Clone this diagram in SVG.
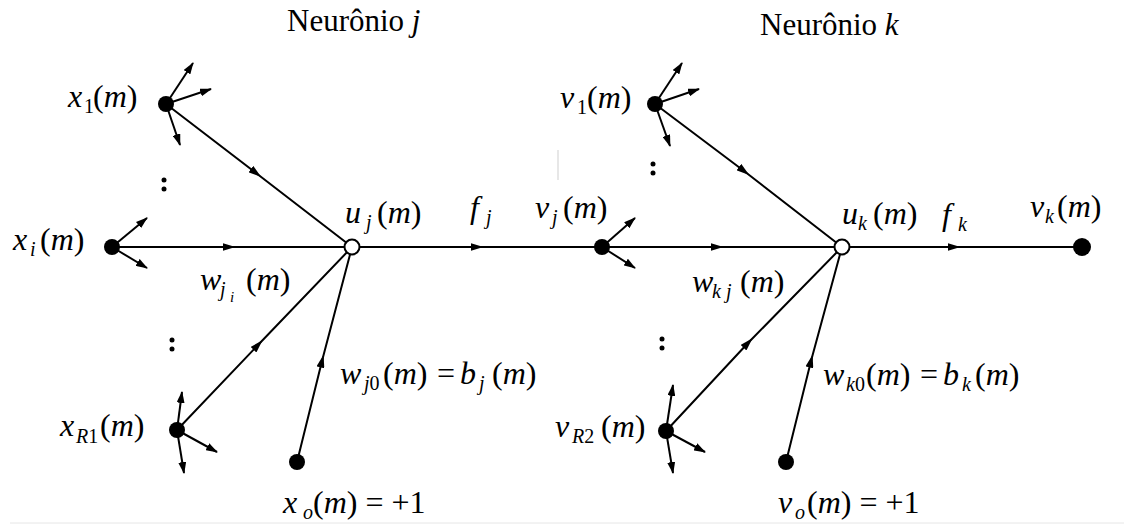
<svg xmlns="http://www.w3.org/2000/svg" width="1124" height="526" viewBox="0 0 1124 526" font-family="'Liberation Serif','Times New Roman',serif">
<style>
text{font-family:"Liberation Serif","Times New Roman",serif;font-size:32px;fill:#000}
.t{font-size:31px}
.i{font-style:italic}
.s{font-size:20px}
.ss{font-size:15px}
.out{stroke:#000;stroke-width:2;fill:none;marker-end:url(#tip)}
.mid{stroke:#000;stroke-width:2;fill:none;marker-mid:url(#mh)}
.dot{fill:#000}
.open{fill:#fff;stroke:#000;stroke-width:2}
</style>
<defs>
<marker id="tip" markerUnits="userSpaceOnUse" viewBox="0 0 12 8" markerWidth="12" markerHeight="8" refX="11" refY="4" orient="auto"><path d="M0,0 L12,4 L0,8 z" fill="#000"/></marker>
<marker id="mh" markerUnits="userSpaceOnUse" viewBox="0 0 13 8" markerWidth="13" markerHeight="8" refX="6.5" refY="4" orient="auto"><path d="M0,0 L13,4 L0,8 z" fill="#000"/></marker>
</defs>
<rect width="1124" height="526" fill="#fff"/>
<line x1="558" y1="150" x2="558" y2="180" stroke="#cfcfcf" stroke-width="1"/>
<line x1="10" y1="523" x2="1124" y2="523" stroke="#e6e6e6" stroke-width="1"/>

<g id="connectors">
<path class="out" d="M166,104 L193,63"/>
<path class="out" d="M166,104 L211,89"/>
<path class="out" d="M166,104 L180,145"/>
<path class="mid" d="M166,104 L256,173 L352,247"/>
<path class="out" d="M112,247 L147,218"/>
<path class="out" d="M112,247 L147,268"/>
<path class="mid" d="M112,247 L229,247 L352,247"/>
<path class="out" d="M177,430 L182,392"/>
<path class="out" d="M177,430 L217,452"/>
<path class="out" d="M177,430 L184,473"/>
<path class="mid" d="M177,430 L258,345 L352,247"/>
<path class="mid" d="M297,462 L322,361 L352,247"/>
<path class="mid" d="M352,247 L477,247 L602,247"/>
<path class="out" d="M602,247 L635,218"/>
<path class="out" d="M602,247 L635,268"/>
<path class="mid" d="M602,247 L717,247 L842,247"/>
<path class="out" d="M655,104 L682,63"/>
<path class="out" d="M655,104 L699,89"/>
<path class="out" d="M655,104 L670,146"/>
<path class="mid" d="M655,104 L744,171 L842,247"/>
<path class="out" d="M666,431 L673,385"/>
<path class="out" d="M666,431 L705,452"/>
<path class="out" d="M666,431 L673,473"/>
<path class="mid" d="M666,431 L748,343 L842,247"/>
<path class="mid" d="M786,462 L811,361 L842,247"/>
<path class="mid" d="M842,247 L954,247 L1082,247"/>
</g>

<g id="title-j"><text class="t" x="287" y="31">Neurônio <tspan class="i">j</tspan></text></g>
<g id="title-k"><text class="t" x="760" y="35">Neurônio <tspan class="i">k</tspan></text></g>

<g id="node-x1"><circle class="dot" cx="166" cy="104" r="8"/>
<text x="68" y="107"><tspan class="i">x</tspan><tspan class="s" x="84" y="113">1</tspan><tspan x="93" y="107">(<tspan class="i">m</tspan>)</tspan></text></g>
<g id="dots-j1"><circle class="dot" cx="164" cy="180" r="2.5"/><circle class="dot" cx="164" cy="189" r="2.5"/></g>
<g id="node-xi"><circle class="dot" cx="112" cy="247" r="8"/>
<text x="13" y="250"><tspan class="i">x</tspan><tspan class="s i" x="30" y="256">i</tspan><tspan x="40" y="250">(<tspan class="i">m</tspan>)</tspan></text></g>
<g id="dots-j2"><circle class="dot" cx="172" cy="340" r="2.5"/><circle class="dot" cx="172" cy="349" r="2.5"/></g>
<g id="node-xR1"><circle class="dot" cx="177" cy="430" r="8"/>
<text x="60" y="436"><tspan class="i">x</tspan><tspan class="s" x="76" y="443"><tspan class="i">R</tspan>1</tspan><tspan x="100" y="436">(<tspan class="i">m</tspan>)</tspan></text></g>
<g id="node-xo"><circle class="dot" cx="297" cy="462" r="8"/>
<text x="283" y="513"><tspan class="i">x</tspan><tspan class="s i" x="303" y="519">o</tspan><tspan x="313" y="513">(<tspan class="i">m</tspan>) = +1</tspan></text></g>
<g id="label-wji"><text x="200" y="290"><tspan class="i">w</tspan><tspan class="s i" x="220" y="296">j</tspan><tspan class="ss i" x="230" y="302">i</tspan><tspan x="246" y="290">(<tspan class="i">m</tspan>)</tspan></text></g>
<g id="label-wj0"><text x="340" y="384"><tspan class="i">w</tspan><tspan class="s" x="364" y="390"><tspan class="i">j</tspan>0</tspan><tspan x="383" y="384">(<tspan class="i">m</tspan>)</tspan><tspan x="437" y="384">=</tspan><tspan class="i" x="460" y="384">b</tspan><tspan class="s i" x="479" y="390">j</tspan><tspan x="492" y="384">(<tspan class="i">m</tspan>)</tspan></text></g>

<g id="node-uj"><circle class="open" cx="352" cy="247" r="7.5"/>
<text x="345" y="223"><tspan class="i">u</tspan><tspan class="s i" x="366" y="229">j</tspan><tspan x="377" y="223">(<tspan class="i">m</tspan>)</tspan></text></g>
<g id="label-fj"><text x="470" y="218"><tspan class="i">f</tspan><tspan class="s i" x="486" y="224">j</tspan></text></g>
<g id="node-vj"><circle class="dot" cx="602" cy="247" r="8"/>
<text x="535" y="218"><tspan class="i">v</tspan><tspan class="s i" x="552" y="224">j</tspan><tspan x="563" y="218">(<tspan class="i">m</tspan>)</tspan></text></g>

<g id="node-v1"><circle class="dot" cx="655" cy="104" r="8"/>
<text x="560" y="108"><tspan class="i">v</tspan><tspan class="s" x="577" y="114">1</tspan><tspan x="587" y="108">(<tspan class="i">m</tspan>)</tspan></text></g>
<g id="dots-k1"><circle class="dot" cx="653" cy="164" r="2.5"/><circle class="dot" cx="653" cy="173" r="2.5"/></g>
<g id="dots-k2"><circle class="dot" cx="662" cy="339" r="2.5"/><circle class="dot" cx="662" cy="348" r="2.5"/></g>
<g id="node-vR2"><circle class="dot" cx="666" cy="431" r="8"/>
<text x="555" y="437"><tspan class="i">v</tspan><tspan class="s" x="572" y="443"><tspan class="i">R</tspan>2</tspan><tspan x="601" y="437">(<tspan class="i">m</tspan>)</tspan></text></g>
<g id="node-vo"><circle class="dot" cx="786" cy="462" r="8"/>
<text x="778" y="513"><tspan class="i">v</tspan><tspan class="s i" x="795" y="519">o</tspan><tspan x="807" y="513">(<tspan class="i">m</tspan>) = +1</tspan></text></g>
<g id="label-wkj"><text x="692" y="292"><tspan class="i">w</tspan><tspan class="s i" x="712" y="298">k j</tspan><tspan x="740" y="292">(<tspan class="i">m</tspan>)</tspan></text></g>
<g id="label-wk0"><text x="823" y="385"><tspan class="i">w</tspan><tspan class="s" x="846" y="391"><tspan class="i">k</tspan>0</tspan><tspan x="866" y="385">(<tspan class="i">m</tspan>)</tspan><tspan x="920" y="385">=</tspan><tspan class="i" x="943" y="385">b</tspan><tspan class="s i" x="962" y="391">k</tspan><tspan x="975" y="385">(<tspan class="i">m</tspan>)</tspan></text></g>

<g id="node-uk"><circle class="open" cx="842" cy="247" r="7.5"/>
<text x="842" y="224"><tspan class="i">u</tspan><tspan class="s i" x="858" y="230">k</tspan><tspan x="873" y="224">(<tspan class="i">m</tspan>)</tspan></text></g>
<g id="label-fk"><text x="942" y="225"><tspan class="i">f</tspan><tspan class="s i" x="958" y="231">k</tspan></text></g>
<g id="node-vk"><circle class="dot" cx="1082" cy="247" r="9"/>
<text x="1030" y="217"><tspan class="i">v</tspan><tspan class="s i" x="1045" y="223">k</tspan><tspan x="1057" y="217">(<tspan class="i">m</tspan>)</tspan></text></g>
</svg>
